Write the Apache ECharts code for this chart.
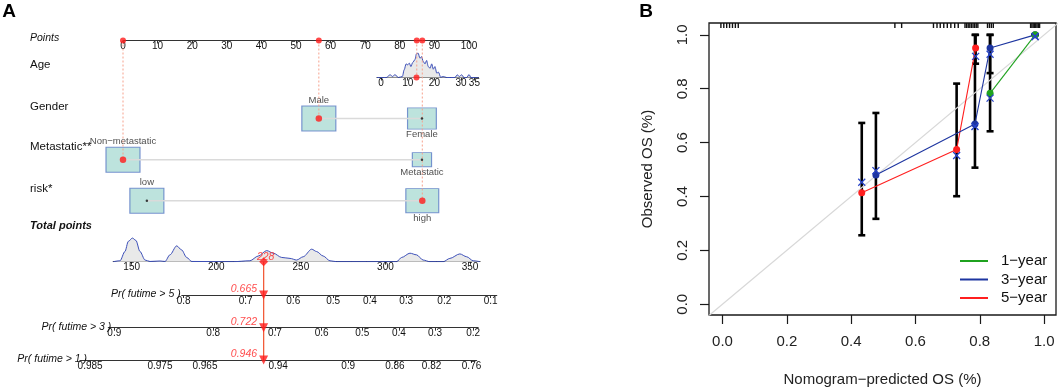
<!DOCTYPE html>
<html>
<head>
<meta charset="utf-8">
<title>Nomogram and calibration curves</title>
<script src="https://cdn.jsdelivr.net/npm/echarts@6.0.0/dist/echarts.min.js"></script>
<style>
  html, body { margin: 0; padding: 0; background: #fff; }
  #chart { width: 1059px; height: 392px; }
</style>
</head>
<body>
<div id="chart"></div>
<script>
// ---------- A: nomogram ----------
var pointTicks = [0, 10, 20, 30, 40, 50, 60, 70, 80, 90, 100];

var ageRange = [-1.5, 36.5];
var ageTicks = [0, 10, 20, 30, 35];
// age distribution, relative density [age, density]
var ageDensity = [[-1.5, 0], [2, 0], [3.4, 0.11], [4.4, 0.04], [5.2, 0.12], [6.5, 0], [8, 0.04], [8.7, 0.32],
  [9.4, 0.56], [10, 0.52], [10.6, 0.59], [11.2, 0.45], [11.9, 0.62], [12.7, 0.73], [13.3, 0.98], [13.9, 1.0],
  [14.6, 0.79], [15.2, 0.86], [15.8, 0.66], [16.5, 0.56], [17.1, 0.7], [17.7, 0.45], [18.4, 0.38], [19, 0.56],
  [19.6, 0.34], [20.2, 0.45], [20.9, 0.18], [21.5, 0.22], [22.4, 0.01], [23.3, 0.04], [24.6, 0], [27.7, 0],
  [28.6, 0.11], [29.3, 0.04], [30.2, 0.11], [31.1, 0], [32.1, 0], [33, 0.12], [33.7, 0], [36.5, 0]];

var genderLevels = ['Male', 'Female'];
var genderPoints = [56.6, 86.4];
var genderCounts = [53, 38];

var metaLevels = ['Non−metastatic', 'Metastatic'];
var metaPoints = [0, 86.4];
var metaCounts = [69, 22];

var riskLevels = ['low', 'high'];
var riskPoints = [6.9, 86.5];
var riskCounts = [47, 44];

var totalRange = [139.1, 355.9];
var totalTicks = [150, 200, 250, 300, 350];
// total points distribution, relative density [points, density]
var totalDensity = [[139.1, 0], [143.1, 0.04], [146, 0.43], [148, 0.86], [150.4, 1], [152.5, 0.9], [154.9, 0.43],
  [157.9, 0.07], [160.8, 0.01], [166.7, 0.03], [169.7, 0.01], [172.6, 0.29], [176.6, 0.67], [179.5, 0.5],
  [182.5, 0.18], [185.5, 0.01], [210, 0], [219.9, 0.04], [224.8, 0.24], [229.8, 0.47], [233.7, 0.36],
  [238.7, 0.18], [243.6, 0.14], [247.5, 0.07], [251.4, 0.21], [256.4, 0.53], [259.3, 0.43], [263.2, 0.24],
  [267.2, 0.04], [271.2, 0], [306.6, 0], [309.6, 0.18], [314.5, 0.36], [318.4, 0.29], [322.3, 0.07],
  [326.3, 0], [334.2, 0], [338.1, 0.14], [344, 0.33], [348, 0.21], [351.9, 0.04], [355.9, 0]];

// survival probability scales: tick label and the total points it sits at
var pr5Labels = ['0.8', '0.7', '0.6', '0.5', '0.4', '0.3', '0.2', '0.1'];
var pr5At = [180.7, 217.4, 245.5, 269.1, 290.8, 312.3, 334.8, 362.2];
var pr5Range = [179.6, 365.8];
var pr3Labels = ['0.9', '0.8', '0.7', '0.6', '0.5', '0.4', '0.3', '0.2'];
var pr3At = [139.7, 198.2, 234.7, 262.3, 286.3, 308.0, 329.3, 351.9];
var pr3Range = [136.2, 354.8];
var pr1Labels = ['0.985', '0.975', '0.965', '0.94', '0.9', '0.86', '0.82', '0.76'];
var pr1At = [125.4, 166.7, 193.3, 236.6, 278.0, 305.6, 327.3, 350.9];
var pr1Range = [119.4, 353.9];

// highlighted patient
var patientAge = 13.3;
var patientAgePoints = 84.9;
var patientGender = 0, patientMeta = 0, patientRisk = 1;
var patientTotal = 228;
var patientPr = ['0.665', '0.722', '0.946'];

// ---------- B: calibration ----------
var predicted1 = [0.832, 0.972];
var observed1 = [0.783, 1.0];
var lower1 = [0.642, 1.0];
var upper1 = [1.0, 1.0];
var corrected1 = [0.765, 0.994];

var predicted3 = [0.477, 0.785, 0.832, 0.972];
var observed3 = [0.48, 0.669, 0.951, 1.0];
var lower3 = [0.317, 0.507, 0.858, 1.0];
var upper3 = [0.71, 1.0, 1.0, 1.0];
var corrected3 = [0.496, 0.66, 0.928, 0.994];

var predicted5 = [0.433, 0.728, 0.787];
var observed5 = [0.414, 0.574, 0.951];
var lower5 = [0.256, 0.401, 0.893];
var upper5 = [0.673, 0.819, 1.0];
var corrected5 = [0.453, 0.552, 0.92];

var rugPredicted = [-0.005, 0.004, 0.013, 0.022, 0.031, 0.04, 0.049, 0.536, 0.557, 0.656, 0.667, 0.677, 0.688,
  0.699, 0.71, 0.722, 0.733, 0.754, 0.759, 0.764, 0.769, 0.774, 0.779, 0.784, 0.789, 0.794, 0.824, 0.83,
  0.836, 0.842, 0.958, 0.962, 0.966, 0.97, 0.974, 0.978, 0.982, 0.986];

// ---------- layout ----------
var FONT = 'Liberation Sans, Arial, Helvetica, sans-serif';
var PTS_LEFT = 123, PTS_WIDTH = 346;
function tpPx(v) { return 131.7 + (v - 150) * 1.6915; }   // total points -> px
function agePx(v) { return 381 + v * 2.669; }
var rowY = { points: 40.5, age: 77.5, gender: 118.5, meta: 159.7, risk: 200.7,
  total: 261.7, pr5: 295, pr3: 327.7, pr1: 360 };
var BOX_W = 34, BOX_H = 25;
var calX = [-0.042, 1.037], calY = [-0.04, 1.044];
var calTicks = [0, 0.2, 0.4, 0.6, 0.8, 1];
var COL1 = '#1fa21f', COL3 = '#1d35a0', COL5 = '#ff1f1f';

function spanGrid(px0, px1, lineY, h) { return { left: px0, width: px1 - px0, top: lineY - h, height: h }; }

var grids = [
  spanGrid(PTS_LEFT, PTS_LEFT + PTS_WIDTH, rowY.points, 20),               // 0 points
  spanGrid(agePx(ageRange[0]), agePx(ageRange[1]), rowY.age, 27.5),         // 1 age
  { left: PTS_LEFT, width: PTS_WIDTH, top: 0, height: 392 },               // 2 overlay (points scale)
  spanGrid(tpPx(totalRange[0]), tpPx(totalRange[1]), rowY.total, 26),      // 3 total points
  spanGrid(tpPx(pr5Range[0]), tpPx(pr5Range[1]), rowY.pr5, 10),            // 4
  spanGrid(tpPx(pr3Range[0]), tpPx(pr3Range[1]), rowY.pr3, 10),            // 5
  spanGrid(tpPx(pr1Range[0]), tpPx(pr1Range[1]), rowY.pr1, 10),            // 6
  { left: tpPx(totalRange[0]), width: tpPx(totalRange[1]) - tpPx(totalRange[0]), top: 0, height: 392 }, // 7 overlay (total scale)
  { left: 709, top: 23, width: 347, height: 293, show: true, borderColor: '#1a1a1a', borderWidth: 1.3,
    backgroundColor: 'transparent' }                                         // 8 calibration
];

function hiddenAxis(gi, min, max, inv) {
  return { gridIndex: gi, type: 'value', show: false, min: min, max: max, inverse: !!inv, splitLine: { show: false } };
}
function lookup(at, labels) {
  return function (v) {
    var best = 0;
    for (var i = 1; i < at.length; i++) if (Math.abs(at[i] - v) < Math.abs(at[best] - v)) best = i;
    return labels[best];
  };
}
function nomoAxis(gi, min, max, ticks, fmt) {
  return {
    gridIndex: gi, type: 'value', min: min, max: max,
    axisLine: { show: true, onZero: false, lineStyle: { color: '#333', width: 1.2 } },
    axisTick: { show: true, length: 3, customValues: ticks, lineStyle: { color: '#333', width: 1 } },
    axisLabel: { show: true, customValues: ticks, margin: 1, fontSize: 10, color: '#111', fontFamily: FONT,
      formatter: fmt || null, hideOverlap: false },
    splitLine: { show: false }
  };
}
function calAxis(gi, range, extra) {
  var ax = {
    gridIndex: gi, type: 'value', min: range[0], max: range[1],
    axisLine: { show: false, onZero: false },
    axisTick: { show: true, length: 9, customValues: calTicks, lineStyle: { color: '#1a1a1a', width: 1.2 } },
    axisLabel: { customValues: calTicks, formatter: function (v) { return v.toFixed(1); },
      fontSize: 15, margin: 19, color: '#222', fontFamily: FONT },
    splitLine: { show: false },
    nameLocation: 'middle',
    nameTextStyle: { fontSize: 15, color: '#222', fontFamily: FONT }
  };
  for (var k in extra) ax[k] = extra[k];
  return ax;
}

var xAxes = [
  nomoAxis(0, 0, 100, pointTicks),
  nomoAxis(1, ageRange[0], ageRange[1], ageTicks),
  hiddenAxis(2, 0, 100),
  nomoAxis(3, totalRange[0], totalRange[1], totalTicks),
  nomoAxis(4, pr5Range[0], pr5Range[1], pr5At, lookup(pr5At, pr5Labels)),
  nomoAxis(5, pr3Range[0], pr3Range[1], pr3At, lookup(pr3At, pr3Labels)),
  nomoAxis(6, pr1Range[0], pr1Range[1], pr1At, lookup(pr1At, pr1Labels)),
  hiddenAxis(7, totalRange[0], totalRange[1]),
  calAxis(8, calX, { name: 'Nomogram−predicted OS (%)', nameGap: 57 })
];
var yCal = calAxis(8, calY, { name: 'Observed OS (%)', nameGap: 54 });
yCal.axisLabel.rotate = 90;
var yAxes = [
  hiddenAxis(0, 0, 1),
  hiddenAxis(1, 0, 1.13),
  hiddenAxis(2, 0, 392, true),
  hiddenAxis(3, 0, 1.1),
  hiddenAxis(4, 0, 1),
  hiddenAxis(5, 0, 1),
  hiddenAxis(6, 0, 1),
  hiddenAxis(7, 0, 392, true),
  yCal
];

var series = [];

// density curves
series.push({ type: 'line', xAxisIndex: 1, yAxisIndex: 1, data: ageDensity, smooth: 0.3, smoothMonotone: 'x',
  symbol: 'none', silent: true, lineStyle: { color: '#3c4fb8', width: 1 }, areaStyle: { color: '#e9e9e9', opacity: 1 } });
series.push({ type: 'line', xAxisIndex: 3, yAxisIndex: 3, data: totalDensity, smooth: 0.3, smoothMonotone: 'x',
  symbol: 'none', silent: true, lineStyle: { color: '#3c4fb8', width: 1 }, areaStyle: { color: '#e9e9e9', opacity: 1 } });

// factor rows: connecting line, boxes, dots
function factorRow(levels, pts, counts, y, chosen) {
  var maxC = Math.max.apply(null, counts);
  series.push({ type: 'line', xAxisIndex: 2, yAxisIndex: 2, symbol: 'none', silent: true,
    data: pts.map(function (p) { return [p, y]; }), lineStyle: { color: '#dadada', width: 1.5 } });
  series.push({
    type: 'scatter', xAxisIndex: 2, yAxisIndex: 2, clip: false, symbol: 'rect', silent: true,
    itemStyle: { color: '#acdcd4', borderColor: '#5a7bc6', borderWidth: 1 },
    label: { show: true, formatter: '{b}', fontSize: 9.5, color: '#222', fontFamily: FONT, distance: 0 },
    data: levels.map(function (lv, i) {
      var k = Math.sqrt(counts[i] / maxC);
      return { name: lv, value: [pts[i], y], symbolSize: [BOX_W * k, BOX_H * k],
        label: { position: i === 0 ? 'top' : 'bottom' } };
    })
  });
  series.push({ type: 'scatter', xAxisIndex: 2, yAxisIndex: 2, clip: false, silent: true, z: 4,
    data: pts.map(function (p, i) {
      return { value: [p, y], symbolSize: i === chosen ? 6.5 : 2.5,
        itemStyle: { color: i === chosen ? '#ff1a1a' : '#111' } };
    }) });
}
factorRow(genderLevels, genderPoints, genderCounts, rowY.gender, patientGender);
factorRow(metaLevels, metaPoints, metaCounts, rowY.meta, patientMeta);
factorRow(riskLevels, riskPoints, riskCounts, rowY.risk, patientRisk);

// dotted guides from the points scale
[[metaPoints[patientMeta], rowY.meta], [genderPoints[patientGender], rowY.gender],
 [patientAgePoints, rowY.age], [riskPoints[patientRisk], rowY.risk]].forEach(function (d) {
  series.push({ type: 'line', xAxisIndex: 2, yAxisIndex: 2, symbol: 'none', silent: true, z: 3,
    data: [[d[0], rowY.points], [d[0], d[1]]], lineStyle: { color: '#f6a18c', width: 1, type: [2, 2] } });
});

// red dots on points and age axes
series.push({ type: 'scatter', xAxisIndex: 0, yAxisIndex: 0, clip: false, symbolSize: 6, z: 5, silent: true,
  itemStyle: { color: '#ff1a1a' },
  data: [metaPoints[patientMeta], genderPoints[patientGender], patientAgePoints, riskPoints[patientRisk]]
    .map(function (p) { return [p, 0]; }) });
series.push({ type: 'scatter', xAxisIndex: 1, yAxisIndex: 1, clip: false, symbolSize: 6, z: 5, silent: true,
  itemStyle: { color: '#ff1a1a' }, data: [[patientAge, 0]] });

// total points marker and line down to probabilities
series.push({ type: 'line', xAxisIndex: 7, yAxisIndex: 7, symbol: 'none', silent: true, z: 3,
  data: [[patientTotal, rowY.total], [patientTotal, rowY.pr1]], lineStyle: { color: '#f25c3a', width: 1.3 } });
series.push({ type: 'scatter', xAxisIndex: 3, yAxisIndex: 3, clip: false, symbol: 'diamond', symbolSize: [9, 9],
  z: 5, silent: true, itemStyle: { color: '#ff1a1a' }, data: [[patientTotal, 0]],
  label: { show: true, position: 'top', distance: -5, offset: [2, 0], formatter: String(patientTotal),
    color: '#ff2020', fontStyle: 'italic', fontSize: 10.5, fontFamily: FONT } });
[4, 5, 6].forEach(function (gi, i) {
  series.push({ type: 'scatter', xAxisIndex: gi, yAxisIndex: gi, clip: false, symbol: 'triangle',
    symbolRotate: 180, symbolSize: [9, 9], z: 5, silent: true, itemStyle: { color: '#ff1a1a' },
    data: [[patientTotal, 0]],
    label: { show: true, position: 'left', distance: 2, offset: [0, -6], formatter: patientPr[i],
      color: '#ff2020', fontStyle: 'italic', fontSize: 10.5, fontFamily: FONT } });
});

// ---------- B series ----------
series.push({ type: 'line', xAxisIndex: 8, yAxisIndex: 8, symbol: 'none', silent: true, clip: true,
  data: [[-0.1, -0.1], [1.1, 1.1]], lineStyle: { color: '#d8d8d8', width: 1.2 } });

series.push({ type: 'custom', coordinateSystem: 'cartesian2d', xAxisIndex: 8, yAxisIndex: 8, silent: true, clip: false,
  data: rugPredicted.map(function (v) { return [v, 1]; }),
  renderItem: function (params, api) {
    var x = api.coord([api.value(0), 0])[0];
    var top = params.coordSys.y;
    return { type: 'line', shape: { x1: x, y1: top, x2: x, y2: top + 5 }, style: { stroke: '#111', lineWidth: 1.4 } };
  } });

function bars(pred, lo, hi) { return pred.map(function (p, i) { return [p, lo[i], hi[i]]; }); }
series.push({ type: 'custom', coordinateSystem: 'cartesian2d', xAxisIndex: 8, yAxisIndex: 8, silent: true, clip: false,
  encode: { x: 0, y: [1, 2] },
  data: bars(predicted5, lower5, upper5).concat(bars(predicted3, lower3, upper3), bars(predicted1, lower1, upper1)),
  renderItem: function (params, api) {
    var a = api.coord([api.value(0), api.value(2)]);
    var b = api.coord([api.value(0), api.value(1)]);
    var st = { stroke: '#000', lineWidth: 2.6 };
    return { type: 'group', children: [
      { type: 'line', shape: { x1: a[0], y1: a[1], x2: b[0], y2: b[1] }, style: st },
      { type: 'line', shape: { x1: a[0] - 3.5, y1: a[1], x2: a[0] + 3.5, y2: a[1] }, style: st },
      { type: 'line', shape: { x1: b[0] - 3.5, y1: b[1], x2: b[0] + 3.5, y2: b[1] }, style: st }
    ] };
  } });

function pairs(xs, ys) { return xs.map(function (x, i) { return [x, ys[i]]; }); }
[['5−year', predicted5, observed5, COL5], ['3−year', predicted3, observed3, COL3], ['1−year', predicted1, observed1, COL1]]
  .forEach(function (s) {
    series.push({ type: 'line', name: s[0], xAxisIndex: 8, yAxisIndex: 8, data: pairs(s[1], s[2]),
      symbol: 'circle', symbolSize: 7, showSymbol: true, clip: false, silent: true,
      lineStyle: { color: s[3], width: 1.1 }, itemStyle: { color: s[3] } });
  });

series.push({ type: 'custom', coordinateSystem: 'cartesian2d', xAxisIndex: 8, yAxisIndex: 8, silent: true, clip: false,
  z: 4, data: pairs(predicted5, corrected5).concat(pairs(predicted3, corrected3), pairs(predicted1, corrected1)),
  renderItem: function (params, api) {
    var c = api.coord([api.value(0), api.value(1)]);
    var r = 3.5, st = { stroke: '#2844c8', lineWidth: 1.3 };
    return { type: 'group', children: [
      { type: 'line', shape: { x1: c[0] - r, y1: c[1] - r, x2: c[0] + r, y2: c[1] + r }, style: st },
      { type: 'line', shape: { x1: c[0] - r, y1: c[1] + r, x2: c[0] + r, y2: c[1] - r }, style: st }
    ] };
  } });

// ---------- text ----------
function label(x, y, text, o) {
  o = o || {};
  return { type: 'text', x: x, y: y, silent: true, z: 10,
    style: { text: text, fontFamily: FONT, fontSize: o.size || 11.5, fontStyle: o.italic ? 'italic' : 'normal',
      fontWeight: o.bold ? 'bold' : 'normal', fill: o.color || '#111', align: o.align || 'left', verticalAlign: 'middle' } };
}
var graphics = [
  label(9, 12, 'A', { size: 19, bold: true, align: 'center', color: '#000' }),
  label(646, 12, 'B', { size: 19, bold: true, align: 'center', color: '#000' }),
  label(30, 37.7, 'Points', { italic: true, size: 10.5 }),
  label(30, 65, 'Age'),
  label(30, 107, 'Gender'),
  label(30, 146.7, 'Metastatic**'),
  label(30, 189, 'risk*'),
  label(30, 226, 'Total points', { italic: true, bold: true, size: 11 }),
  label(tpPx(pr5At[0]) - 3, rowY.pr5 - 1, 'Pr( futime > 5 )', { italic: true, size: 10.5, align: 'right' }),
  label(tpPx(pr3At[0]) - 3, rowY.pr3 - 1, 'Pr( futime > 3 )', { italic: true, size: 10.5, align: 'right' }),
  label(tpPx(pr1At[0]) - 3, rowY.pr1 - 1, 'Pr( futime > 1 )', { italic: true, size: 10.5, align: 'right' })
];

var chart = echarts.init(document.getElementById('chart'));
chart.setOption({
  animation: false,
  backgroundColor: '#fff',
  textStyle: { fontFamily: FONT },
  grid: grids,
  xAxis: xAxes,
  yAxis: yAxes,
  legend: {
    data: ['1−year', '3−year', '5−year'], orient: 'vertical', left: 960, top: 252, padding: 0,
    icon: 'rect', itemWidth: 28, itemHeight: 2, itemGap: 0.5, selectedMode: false,
    textStyle: { fontSize: 15, fontFamily: FONT, color: '#111', lineHeight: 18, padding: [0, 0, 0, 8] }
  },
  graphic: graphics,
  series: series
});
</script>
</body>
</html>
